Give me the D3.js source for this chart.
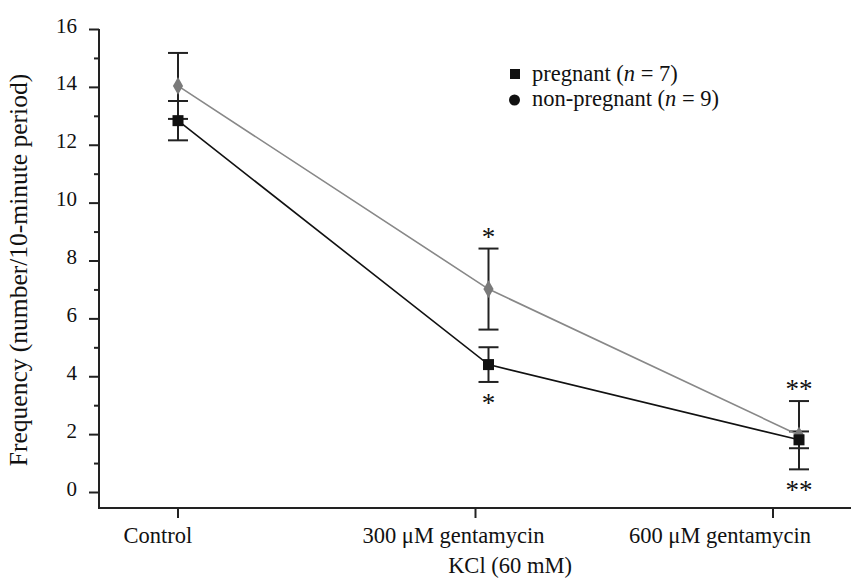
<!DOCTYPE html>
<html>
<head>
<meta charset="utf-8">
<script src="https://cdn.jsdelivr.net/npm/d3@7"></script>
<style>
  html, body { margin: 0; padding: 0; background: #fff; }
  svg { display: block; }
  text { font-family: "Liberation Serif", "Times New Roman", serif; fill: #111; }
</style>
</head>
<body>
<svg id="chart" width="851" height="579"></svg>
<script>
// ---- data ----
const categories = ["Control", "300 \u03bcM gentamycin", "600 \u03bcM gentamycin"];
const pregnantMean = [12.85, 4.42, 1.82];
const pregnantErr  = [0.68, 0.60, 0.29];
const nonPregMean  = [14.05, 7.03, 1.98];
const nonPregErr   = [1.14, 1.40, 1.18];
const sigAbove = ["", "*", "**"];
const sigBelow = ["", "*", "**"];
const yTicks = [0, 2, 4, 6, 8, 10, 12, 14, 16];
const yMinorTicks = [1, 3, 5, 7, 9, 11, 13, 15];
const xTitle = "KCl (60 mM)";
const yTitle = "Frequency (number/10-minute period)";

// ---- layout ----
const svg = d3.select("#chart");
const axisX0 = 99, axisY0 = 508;
const y = d3.scaleLinear().domain([0, 16]).range([492.5, 29.5]);
const x = d3.scalePoint().domain(categories).range([178, 799]);
const xAxisScale = d3.scalePoint().domain(categories).range([178, 773]);
const labelShift = [-20, -22, -53];

// axes lines
svg.append("line").attr("x1", axisX0).attr("x2", axisX0)
  .attr("y1", y(16) - 0.5).attr("y2", axisY0 + 1)
  .attr("stroke", "#222").attr("stroke-width", 2);
svg.append("line").attr("x1", axisX0 - 1).attr("x2", 851)
  .attr("y1", axisY0).attr("y2", axisY0)
  .attr("stroke", "#222").attr("stroke-width", 2);

// y ticks
svg.selectAll(".ymaj").data(yTicks).enter().append("line")
  .attr("x1", 89).attr("x2", axisX0).attr("y1", d => y(d)).attr("y2", d => y(d))
  .attr("stroke", "#222").attr("stroke-width", 2);
svg.selectAll(".ymin").data(yMinorTicks).enter().append("line")
  .attr("x1", 94).attr("x2", axisX0).attr("y1", d => y(d)).attr("y2", d => y(d))
  .attr("stroke", "#222").attr("stroke-width", 2);
svg.selectAll(".ylab").data(yTicks).enter().append("text")
  .attr("x", 77).attr("y", d => y(d) + 3)
  .attr("text-anchor", "end").attr("font-size", 21)
  .text(d => d);

// x ticks
svg.selectAll(".xt").data(categories).enter().append("line")
  .attr("x1", d => xAxisScale(d)).attr("x2", d => xAxisScale(d))
  .attr("y1", axisY0).attr("y2", axisY0 + 10)
  .attr("stroke", "#222").attr("stroke-width", 2);
svg.selectAll(".xl").data(categories).enter().append("text")
  .attr("x", (d, i) => xAxisScale(d) + labelShift[i]).attr("y", 543)
  .attr("text-anchor", "middle").attr("font-size", 22.5)
  .text(d => d);

// axis titles
svg.append("text").attr("x", 510).attr("y", 573)
  .attr("text-anchor", "middle").attr("font-size", 22.5).text(xTitle);
svg.append("text").attr("transform", "translate(27,270) rotate(-90)")
  .attr("text-anchor", "middle").attr("font-size", 25.5).text(yTitle);

// error bars
function errBars(mean, err, cls) {
  const g = svg.append("g").attr("class", cls);
  const d = categories.map((c, i) => ({ c, m: mean[i], e: err[i] }));
  g.selectAll(".v").data(d).enter().append("line")
    .attr("x1", o => x(o.c)).attr("x2", o => x(o.c))
    .attr("y1", o => y(o.m + o.e)).attr("y2", o => y(o.m - o.e))
    .attr("stroke", "#222").attr("stroke-width", 2);
  g.selectAll(".t").data(d).enter().append("line")
    .attr("x1", o => x(o.c) - 10).attr("x2", o => x(o.c) + 10)
    .attr("y1", o => y(o.m + o.e)).attr("y2", o => y(o.m + o.e))
    .attr("stroke", "#222").attr("stroke-width", 2);
  g.selectAll(".b").data(d).enter().append("line")
    .attr("x1", o => x(o.c) - 10).attr("x2", o => x(o.c) + 10)
    .attr("y1", o => y(o.m - o.e)).attr("y2", o => y(o.m - o.e))
    .attr("stroke", "#222").attr("stroke-width", 2);
}
errBars(nonPregMean, nonPregErr, "err-non");
errBars(pregnantMean, pregnantErr, "err-preg");

// lines
const line = d3.line().x(d => x(d.c)).y(d => y(d.v));
svg.append("path")
  .datum(categories.map((c, i) => ({ c, v: nonPregMean[i] })))
  .attr("d", line).attr("fill", "none").attr("stroke", "#888").attr("stroke-width", 1.6);
svg.append("path")
  .datum(categories.map((c, i) => ({ c, v: pregnantMean[i] })))
  .attr("d", line).attr("fill", "none").attr("stroke", "#111").attr("stroke-width", 1.6);

// markers
svg.selectAll(".dia").data(categories).enter().append("path")
  .attr("d", d3.symbol().type(d3.symbolDiamond).size(90))
  .attr("transform", (c, i) => `translate(${x(c)},${y(nonPregMean[i])})`)
  .attr("fill", "#7a7a7a");
svg.selectAll(".sq").data(categories).enter().append("rect")
  .attr("x", c => x(c) - 5.5).attr("y", (c, i) => y(pregnantMean[i]) - 5.5)
  .attr("width", 11).attr("height", 11).attr("fill", "#111");

// significance marks
svg.selectAll(".sa").data(categories).enter().append("text")
  .attr("x", c => x(c)).attr("y", (c, i) => y(nonPregMean[i] + nonPregErr[i]) - 15 + 12)
  .attr("text-anchor", "middle").attr("font-size", 27).attr("fill", "#333")
  .text((c, i) => sigAbove[i]);
svg.selectAll(".sb").data(categories).enter().append("text")
  .attr("x", c => x(c))
  .attr("y", (c, i) => y(Math.min(pregnantMean[i] - pregnantErr[i], nonPregMean[i] - nonPregErr[i])) + 18 + 12)
  .attr("text-anchor", "middle").attr("font-size", 27).attr("fill", "#333")
  .text((c, i) => sigBelow[i]);

// legend
const lg = svg.append("g");
lg.append("rect").attr("x", 510).attr("y", 69).attr("width", 10).attr("height", 10).attr("fill", "#111");
lg.append("circle").attr("cx", 514.5).attr("cy", 100).attr("r", 5.5).attr("fill", "#111");
const t1 = lg.append("text").attr("x", 532).attr("y", 81).attr("font-size", 22.5);
t1.append("tspan").text("pregnant (");
t1.append("tspan").attr("font-style", "italic").text("n");
t1.append("tspan").text(" = 7)");
const t2 = lg.append("text").attr("x", 532).attr("y", 106).attr("font-size", 22.5);
t2.append("tspan").text("non-pregnant (");
t2.append("tspan").attr("font-style", "italic").text("n");
t2.append("tspan").text(" = 9)");
</script>
</body>
</html>
